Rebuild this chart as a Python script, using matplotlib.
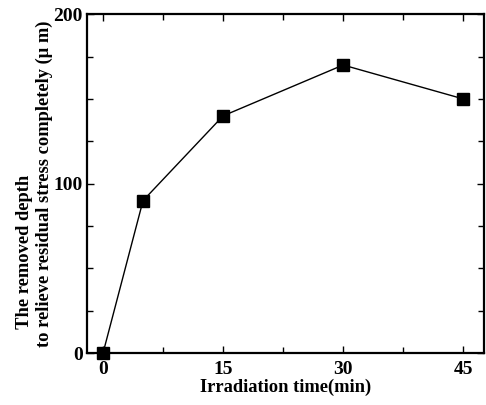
import matplotlib
matplotlib.use("Agg")
import matplotlib.pyplot as plt
from matplotlib.ticker import MultipleLocator

# irradiation time (min) vs removed depth (um)
time_min = [0, 5, 15, 30, 45]
depth_um = [0, 90, 140, 170, 150]

plt.rcParams['font.family'] = ['Liberation Serif', 'DejaVu Serif']
plt.rcParams['font.weight'] = 'bold'

fig = plt.figure(figsize=(4.86, 4.05), dpi=100)
ax = fig.add_axes([0.179, 0.128, 0.817, 0.837])

ax.plot(time_min, depth_um, color='black', lw=1.0, marker='s',
        markersize=8.5, markerfacecolor='black', markeredgecolor='black',
        clip_on=False, zorder=3)

ax.set_xlim(-2, 47.6)
ax.set_ylim(0, 200)
ax.xaxis.set_major_locator(MultipleLocator(15))
ax.xaxis.set_minor_locator(MultipleLocator(7.5))
ax.yaxis.set_major_locator(MultipleLocator(100))
ax.yaxis.set_minor_locator(MultipleLocator(25))

for s in ax.spines.values():
    s.set_linewidth(1.6)

ax.tick_params(which='both', direction='in', top=True, right=True,
               width=1.0, labelsize=14, pad=3)
ax.tick_params(axis='x', pad=6)
ax.tick_params(which='major', length=5)
ax.tick_params(which='minor', length=4)
for lab in ax.get_xticklabels() + ax.get_yticklabels():
    lab.set_fontweight('bold')

ax.set_xlabel('Irradiation time(min)', fontsize=13.3, fontweight='bold',
              labelpad=0)
ax.set_ylabel('    The removed depth\nto relieve residual stress completely (\u03bc m)',
              fontsize=13.3, fontweight='bold', multialignment='left',
              labelpad=0, linespacing=1.25)

fig.savefig('out.png', dpi=100)
